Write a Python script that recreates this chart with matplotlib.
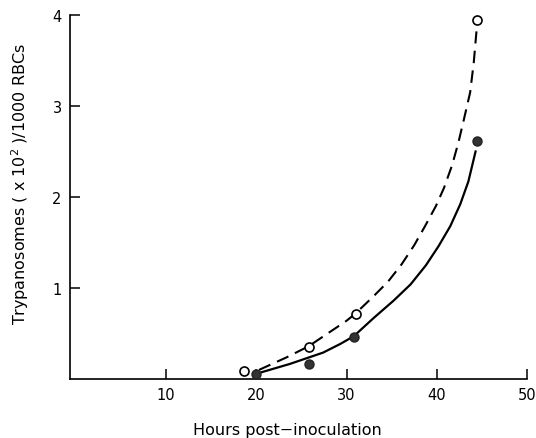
import numpy as np
import matplotlib
matplotlib.use('Agg')
import matplotlib.pyplot as plt

hours_open = [18.6, 25.8, 31.0, 44.5]
tryp_open = [0.085, 0.355, 0.715, 3.95]

hours_filled = [19.95, 25.8, 30.8, 44.5]
tryp_filled = [0.055, 0.16, 0.465, 2.61]

# Hand-drawn fitted curves, traced along their path
curve_dash_x = [20.3, 23.4, 25.8, 28.2, 30.0, 31.0, 33.0, 34.6, 36.1, 37.5, 38.7, 39.9,
                40.8, 41.7, 42.4, 43.0, 43.7, 44.1, 44.4]
curve_dash_y = [0.10, 0.24, 0.36, 0.52, 0.64, 0.72, 0.91, 1.07, 1.26, 1.47, 1.68, 1.90,
                2.10, 2.35, 2.60, 2.85, 3.15, 3.48, 3.82]

curve_solid_x = [20.6, 23.7, 27.4, 29.3, 30.8, 33.0, 35.2, 37.1, 38.8, 40.2, 41.5, 42.6,
                 43.5, 44.3]
curve_solid_y = [0.075, 0.165, 0.29, 0.385, 0.47, 0.67, 0.86, 1.04, 1.25, 1.46, 1.68, 1.92,
                 2.17, 2.50]

x_ticks = [10, 20, 30, 40, 50]
y_ticks = [1, 2, 3, 4]

fig = plt.figure(figsize=(5.36, 4.39), dpi=100)
ax = fig.add_axes([70 / 536, 1 - 380 / 439, (527 - 70) / 536, (380 - 16) / 439])

ax.plot(curve_dash_x, curve_dash_y, color='black', lw=1.5, dashes=(6, 3.5))
ax.plot(curve_solid_x, curve_solid_y, color='black', lw=1.6)

ax.plot(hours_open, tryp_open, 'o', ms=6.5, mfc='white', mec='black', mew=1.2,
        linestyle='none', zorder=5)
ax.plot(hours_filled, tryp_filled, 'o', ms=6.5, mfc='#333333', mec='#222222', mew=1.0,
        linestyle='none', zorder=5)

ax.set_xlim(-0.65, 50)
ax.set_ylim(0, 4)
ax.set_xticks(x_ticks)
ax.set_yticks(y_ticks)
ax.tick_params(direction='in', length=7, width=1.1, labelsize=10.5, pad=6)

for side in ['top', 'right']:
    ax.spines[side].set_visible(False)
for side in ['left', 'bottom']:
    ax.spines[side].set_linewidth(1.2)

fig.text(287 / 536, 1 - 431 / 439, 'Hours post\u2212inoculation', ha='center', va='center',
         fontsize=11.5)
fig.text(20 / 536, 1 - 184 / 439, 'Trypanosomes ( x 10$^2$ )/1000 RBCs', ha='center',
         va='center', rotation=90, fontsize=11.5)

fig.savefig('out.png', dpi=100)
